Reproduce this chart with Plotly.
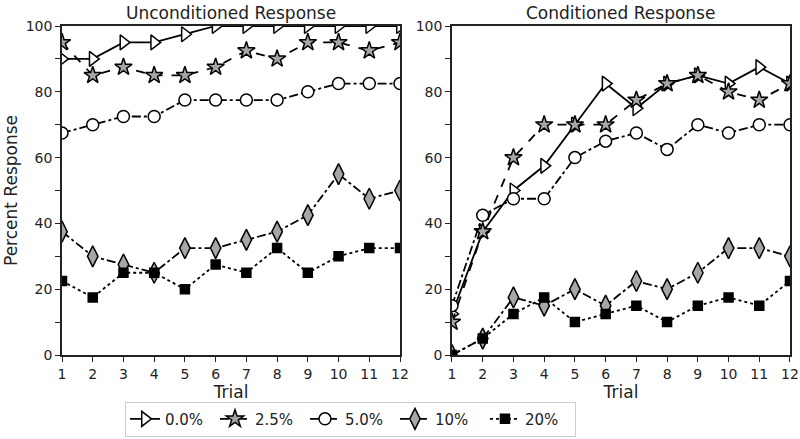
import plotly.graph_objects as go
from plotly.subplots import make_subplots

trials = list(range(1, 13))
series_names = ["0.0%", "2.5%", "5.0%", "10%", "20%"]

uncond_00 = [90, 90, 95, 95, 97.5, 100, 100, 100, 100, 100, 100, 100]
uncond_25 = [95, 85, 87.5, 85, 85, 87.5, 92.5, 90, 95, 95, 92.5, 95]
uncond_50 = [67.5, 70, 72.5, 72.5, 77.5, 77.5, 77.5, 77.5, 80, 82.5, 82.5, 82.5]
uncond_10 = [37.5, 30, 27.5, 25, 32.5, 32.5, 35, 37.5, 42.5, 55, 47.5, 50]
uncond_20 = [22.5, 17.5, 25, 25, 20, 27.5, 25, 32.5, 25, 30, 32.5, 32.5]

cond_00 = [12.5, 37.5, 50, 57.5, 70, 82.5, 75, 82.5, 85, 82.5, 87.5, 82.5]
cond_25 = [10, 37.5, 60, 70, 70, 70, 77.5, 82.5, 85, 80, 77.5, 82.5]
cond_50 = [15, 42.5, 47.5, 47.5, 60, 65, 67.5, 62.5, 70, 67.5, 70, 70]
cond_10 = [0, 5, 17.5, 15, 20, 15, 22.5, 20, 25, 32.5, 32.5, 30]
cond_20 = [0, 5, 12.5, 17.5, 10, 12.5, 15, 10, 15, 17.5, 15, 22.5]

panel_titles = ["Unconditioned Response", "Conditioned Response"]

styles = [
    dict(symbol="triangle-right", color="white", size=13, dash="solid"),
    dict(symbol="star", color="#a6a6a6", size=13, dash="dash"),
    dict(symbol="circle", color="white", size=12, dash="dashdot"),
    dict(symbol="diamond-tall", color="#a6a6a6", size=15, dash="dashdot"),
    dict(symbol="square", color="black", size=9, dash="dot"),
]

uncond = [uncond_00, uncond_25, uncond_50, uncond_10, uncond_20]
cond = [cond_00, cond_25, cond_50, cond_10, cond_20]

fig = make_subplots(rows=1, cols=2, horizontal_spacing=0.0714)
font_family = "DejaVu Sans"
ink = "#222"

for col, data in [(1, uncond), (2, cond)]:
    for i, (name, ys) in enumerate(zip(series_names, data)):
        st = styles[i]
        fig.add_trace(go.Scatter(
            x=trials, y=ys, name=name, mode="lines+markers",
            showlegend=(col == 1), legendgroup=name,
            line=dict(color="black", width=1.8, dash=st["dash"]),
            marker=dict(symbol=st["symbol"], size=st["size"], color=st["color"],
                        line=dict(color="black", width=1.5)),
            cliponaxis=True,
        ), row=1, col=col)

axis_common = dict(showline=True, linecolor=ink, linewidth=1.5, mirror=True,
                   ticks="outside", ticklen=5, tickwidth=1.2, tickcolor=ink,
                   showgrid=False, zeroline=False, automargin=False,
                   tickfont=dict(size=14, color=ink, family=font_family))

for col in (1, 2):
    fig.update_xaxes(range=[1, 12], tickmode="array", tickvals=trials,
                     title=dict(text="Trial", font=dict(size=17, color=ink, family=font_family), standoff=2),
                     row=1, col=col, **axis_common)
    fig.update_yaxes(range=[0, 100], dtick=20,
                     minor=dict(dtick=10, ticks="outside", ticklen=5, tickcolor=ink, tickwidth=1.2),
                     row=1, col=col, **axis_common)

fig.update_yaxes(title=dict(text="Percent Response", font=dict(size=17, color=ink, family=font_family), standoff=4),
                 row=1, col=1)

for i, t in enumerate(panel_titles):
    fig.add_annotation(text=t, xref="x domain" if i == 0 else "x2 domain", yref="paper",
                       x=0.5, y=1.0, yshift=1, yanchor="bottom", showarrow=False,
                       font=dict(size=17, color=ink, family=font_family))

fig.update_layout(
    width=800, height=439,
    margin=dict(l=62, r=10, t=26, b=84, autoexpand=False),
    plot_bgcolor="white", paper_bgcolor="white",
    font=dict(family=font_family, color=ink),
    legend=dict(orientation="h", x=0.0865, y=-0.248, xanchor="left", yanchor="bottom",
                bordercolor="#cccccc", borderwidth=1, bgcolor="white",
                font=dict(size=15, family=font_family, color=ink),
                entrywidth=45, itemwidth=30),
)

fig.write_html("out.html", config={"displayModeBar": False},
               post_script="document.body.style.margin='0';")
